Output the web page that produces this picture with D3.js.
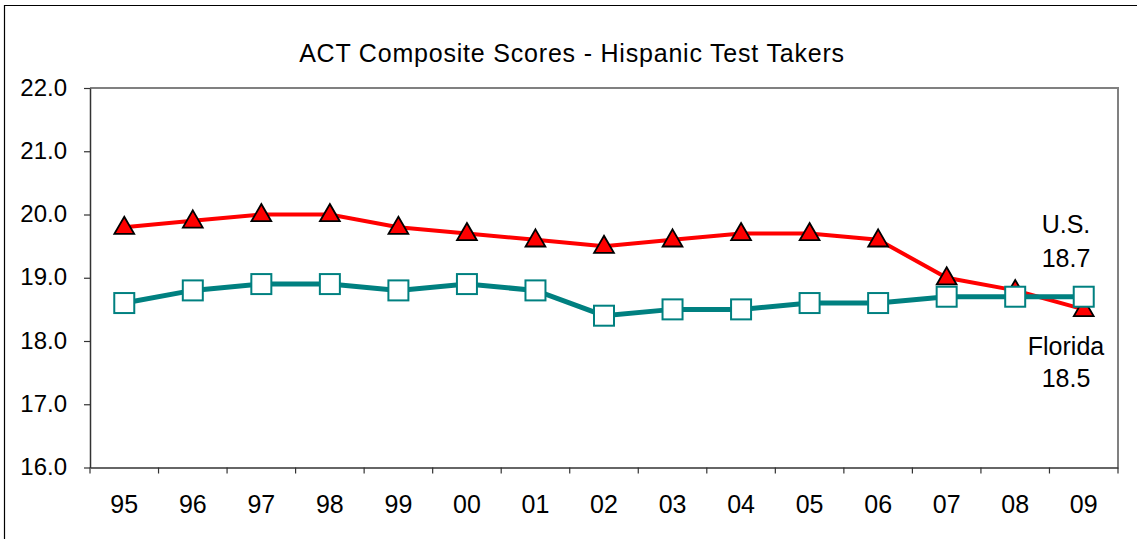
<!DOCTYPE html>
<html>
<head>
<meta charset="utf-8">
<script src="https://cdn.jsdelivr.net/npm/d3@7"></script>
<style>
  body { margin: 0; background: #fff; }
  svg text { font-family: "Liberation Sans", Arial, sans-serif; fill: #000; }
</style>
</head>
<body>
<svg id="chart" width="1145" height="539"></svg>
<script>
const years = ["95","96","97","98","99","00","01","02","03","04","05","06","07","08","09"];
const redSeries = [19.8, 19.9, 20.0, 20.0, 19.8, 19.7, 19.6, 19.5, 19.6, 19.7, 19.7, 19.6, 19.0, 18.8, 18.5];
const tealSeries = [18.6, 18.8, 18.9, 18.9, 18.8, 18.9, 18.8, 18.4, 18.5, 18.5, 18.6, 18.6, 18.7, 18.7, 18.7];
const yTicks = [16, 17, 18, 19, 20, 21, 22];
const title = "ACT Composite Scores - Hispanic Test Takers";
const annotations = [
  {text: "U.S.", value: 18.7, dy: -64},
  {text: "18.7", value: 18.7, dy: -30},
  {text: "Florida", value: 18.5, dy: 46},
  {text: "18.5", value: 18.5, dy: 78}
];

const svg = d3.select("#chart");
const L = 90, R = 1118, T = 88, B = 467.5;

// outer border (top & left visible)
svg.append("path").attr("d", "M1137,5.5 H4.5 V539").attr("fill", "none").attr("stroke", "#000").attr("stroke-width", 1.2);

const x = d3.scaleBand().domain(years).range([L, R]);
const y = d3.scaleLinear().domain([16, 22]).range([B, T]);

// plot frame top/right gray
svg.append("path").attr("d", `M${L},${T} H${R} V${B}`).attr("fill", "none").attr("stroke", "#808080").attr("stroke-width", 2);

// y axis
const yAxis = svg.append("g").attr("transform", `translate(${L},0)`)
  .call(d3.axisLeft(y).tickValues(yTicks).tickFormat(d3.format(".1f")).tickSize(6).tickSizeOuter(0));
yAxis.select(".domain").attr("stroke", "#333").attr("stroke-width", 1.5);
yAxis.selectAll(".tick line").attr("stroke", "#333").attr("stroke-width", 1.2);
yAxis.selectAll(".tick text").attr("x", -23).attr("dy", "0.3em").attr("font-size", "24px").attr("fill", "#000");

// x axis
const xAxis = svg.append("g").attr("transform", `translate(0,${B})`)
  .call(d3.axisBottom(x).tickSize(0).tickSizeOuter(0));
xAxis.select(".domain").attr("stroke", "#333").attr("stroke-width", 1.5);
xAxis.selectAll(".tick text").attr("y", 28).attr("font-size", "25px").attr("fill", "#000");
// boundary tick marks
const bounds = years.map(d => x(d)).concat([R]);
svg.append("g").selectAll("line").data(bounds).join("line")
  .attr("x1", d => d).attr("x2", d => d).attr("y1", B).attr("y2", B + 6)
  .attr("stroke", "#333").attr("stroke-width", 1.2);

const cx = d => x(d) + x.bandwidth() / 2;
const line = d3.line().x((d, i) => cx(years[i])).y(d => y(d));

// red line + triangles
svg.append("path").datum(redSeries).attr("d", line).attr("fill", "none").attr("stroke", "#FF0000").attr("stroke-width", 4);
const tri = d3.symbol().type(d3.symbolTriangle).size(170);
svg.append("g").selectAll("path").data(redSeries).join("path")
  .attr("d", tri)
  .attr("transform", (d, i) => `translate(${cx(years[i])},${y(d) + 1})`)
  .attr("fill", "#FF0000").attr("stroke", "#000").attr("stroke-width", 1.8);

// teal line + squares
svg.append("path").datum(tealSeries).attr("d", line).attr("fill", "none").attr("stroke", "#008080").attr("stroke-width", 5);
svg.append("g").selectAll("rect").data(tealSeries).join("rect")
  .attr("x", (d, i) => cx(years[i]) - 10).attr("y", d => y(d) - 10)
  .attr("width", 20).attr("height", 20)
  .attr("fill", "#fff").attr("stroke", "#008080").attr("stroke-width", 2);

// title
svg.append("text").attr("x", 572).attr("y", 62).attr("text-anchor", "middle")
  .attr("font-size", "25px").attr("letter-spacing", "0.8px").text(title);

// annotations
svg.append("g").selectAll("text").data(annotations).join("text")
  .attr("x", 1066).attr("y", d => y(d.value) + d.dy)
  .attr("text-anchor", "middle").attr("font-size", "25px").text(d => d.text);
</script>
</body>
</html>
